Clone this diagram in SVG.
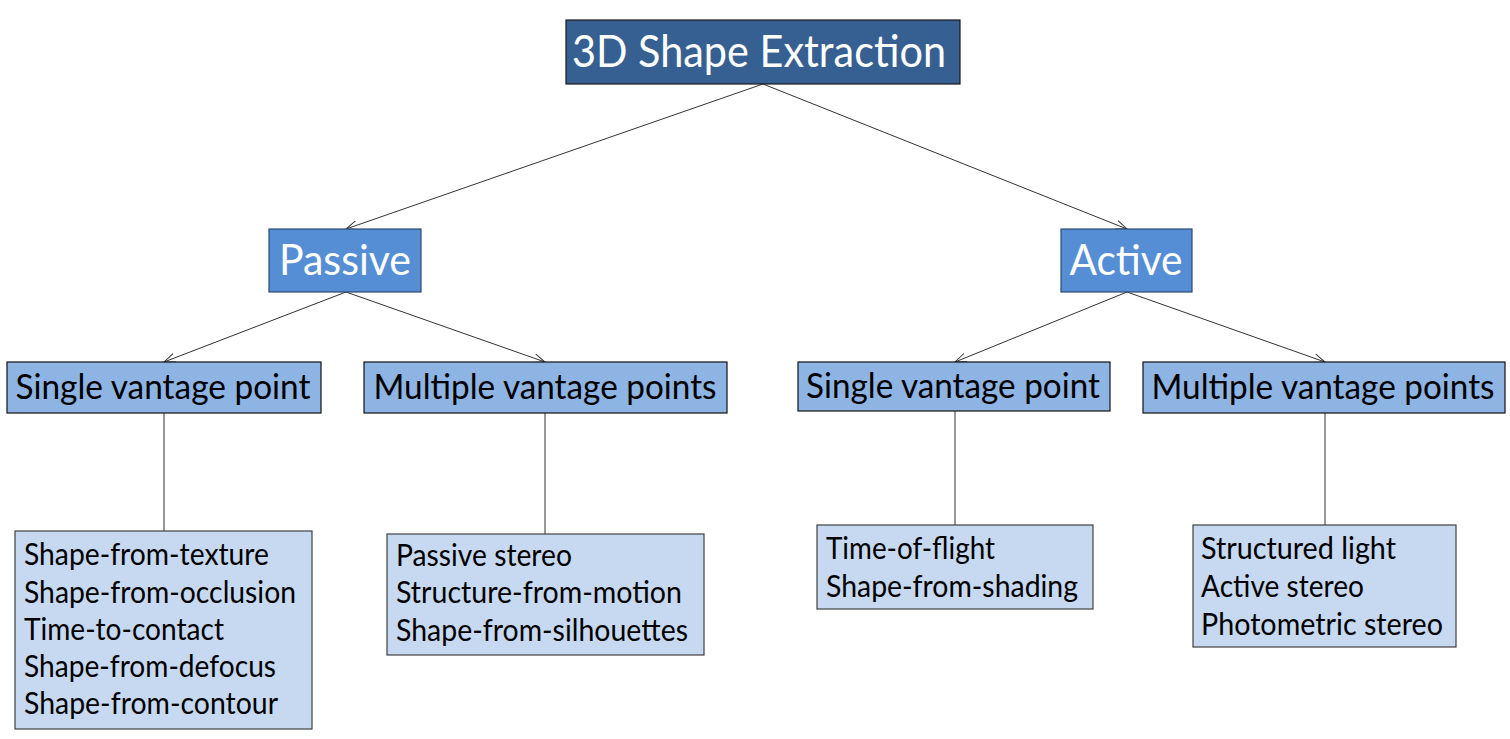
<svg xmlns="http://www.w3.org/2000/svg" width="1510" height="739" viewBox="0 0 1510 739">
<style>
  text { font-family: Lato, "Liberation Sans", sans-serif; }
  .root { fill: #376092; stroke: #1a1a1a; stroke-width: 1.2; }
  .lvl1 { fill: #558ED5; stroke: #2e4a6e; stroke-width: 1.2; }
  .lvl2 { fill: #8EB4E3; stroke: #111; stroke-width: 1.2; }
  .leaf { fill: #C6D9F1; stroke: #404040; stroke-width: 1.2; }
  .tw { fill: #fff; text-anchor: middle; }
  .tb { fill: #000; text-anchor: middle; font-size: 34px; }
  .tl { fill: #000; font-size: 30px; }
  .edge { stroke: #333; stroke-width: 1; fill: none; }
</style>
<defs>
  <marker id="arr" viewBox="0 0 12 10" refX="11.5" refY="5" markerWidth="12" markerHeight="10" markerUnits="userSpaceOnUse" orient="auto">
    <path d="M0,0.5 L11.5,5 L0,9.5" fill="none" stroke="#333" stroke-width="1"/>
  </marker>
</defs>
<rect width="1510" height="739" fill="#fff"/>
<g id="connectors">
  <line class="edge" x1="763" y1="84" x2="346" y2="229" marker-end="url(#arr)"/>
  <line class="edge" x1="763" y1="84" x2="1127" y2="229" marker-end="url(#arr)"/>
  <line class="edge" x1="346" y1="292" x2="164" y2="362" marker-end="url(#arr)"/>
  <line class="edge" x1="346" y1="292" x2="545" y2="362" marker-end="url(#arr)"/>
  <line class="edge" x1="1127" y1="292" x2="955" y2="362" marker-end="url(#arr)"/>
  <line class="edge" x1="1127" y1="292" x2="1325" y2="362" marker-end="url(#arr)"/>
  <line class="edge" x1="164" y1="413" x2="164" y2="531"/>
  <line class="edge" x1="545" y1="413" x2="545" y2="534"/>
  <line class="edge" x1="955" y1="411" x2="955" y2="525"/>
  <line class="edge" x1="1325" y1="413" x2="1325" y2="525"/>
</g>
<g id="root">
  <rect class="root" x="566" y="20" width="394" height="64"/>
  <text class="tw" x="759" y="67" font-size="44" textLength="374" lengthAdjust="spacingAndGlyphs">3D Shape Extraction</text>
</g>
<g id="passive">
  <rect class="lvl1" x="269" y="229" width="152" height="63"/>
  <text class="tw" x="345" y="275" font-size="43" textLength="132" lengthAdjust="spacingAndGlyphs">Passive</text>
</g>
<g id="active">
  <rect class="lvl1" x="1061" y="229" width="131" height="63"/>
  <text class="tw" x="1126" y="275" font-size="43" textLength="113" lengthAdjust="spacingAndGlyphs">Active</text>
</g>
<g id="passive-single">
  <rect class="lvl2" x="7" y="362" width="314" height="51"/>
  <text class="tb" x="163" y="399" textLength="295" lengthAdjust="spacingAndGlyphs">Single vantage point</text>
</g>
<g id="passive-multiple">
  <rect class="lvl2" x="364" y="362" width="363" height="51"/>
  <text class="tb" x="545" y="399" textLength="343" lengthAdjust="spacingAndGlyphs">Multiple vantage points</text>
</g>
<g id="active-single">
  <rect class="lvl2" x="798" y="362" width="312" height="49"/>
  <text class="tb" x="953" y="398" textLength="294" lengthAdjust="spacingAndGlyphs">Single vantage point</text>
</g>
<g id="active-multiple">
  <rect class="lvl2" x="1143" y="362" width="362" height="51"/>
  <text class="tb" x="1323" y="399" textLength="343" lengthAdjust="spacingAndGlyphs">Multiple vantage points</text>
</g>
<g id="passive-single-methods">
  <rect class="leaf" x="15" y="531" width="297" height="198"/>
  <text class="tl" x="24" y="565" textLength="245" lengthAdjust="spacingAndGlyphs">Shape-from-texture</text>
  <text class="tl" x="24" y="603" textLength="272" lengthAdjust="spacingAndGlyphs">Shape-from-occlusion</text>
  <text class="tl" x="24" y="640" textLength="200" lengthAdjust="spacingAndGlyphs">Time-to-contact</text>
  <text class="tl" x="24" y="677" textLength="252" lengthAdjust="spacingAndGlyphs">Shape-from-defocus</text>
  <text class="tl" x="24" y="714" textLength="254" lengthAdjust="spacingAndGlyphs">Shape-from-contour</text>
</g>
<g id="passive-multiple-methods">
  <rect class="leaf" x="387" y="534" width="317" height="121"/>
  <text class="tl" x="396" y="566" textLength="176" lengthAdjust="spacingAndGlyphs">Passive stereo</text>
  <text class="tl" x="396" y="603" textLength="286" lengthAdjust="spacingAndGlyphs">Structure-from-motion</text>
  <text class="tl" x="396" y="641" textLength="292" lengthAdjust="spacingAndGlyphs">Shape-from-silhouettes</text>
</g>
<g id="active-single-methods">
  <rect class="leaf" x="817" y="525" width="276" height="84"/>
  <text class="tl" x="826" y="559" textLength="169" lengthAdjust="spacingAndGlyphs">Time-of-flight</text>
  <text class="tl" x="826" y="597" textLength="252" lengthAdjust="spacingAndGlyphs">Shape-from-shading</text>
</g>
<g id="active-multiple-methods">
  <rect class="leaf" x="1193" y="525" width="263" height="122"/>
  <text class="tl" x="1201" y="559" textLength="195" lengthAdjust="spacingAndGlyphs">Structured light</text>
  <text class="tl" x="1201" y="597" textLength="163" lengthAdjust="spacingAndGlyphs">Active stereo</text>
  <text class="tl" x="1201" y="635" textLength="242" lengthAdjust="spacingAndGlyphs">Photometric stereo</text>
</g>
</svg>
